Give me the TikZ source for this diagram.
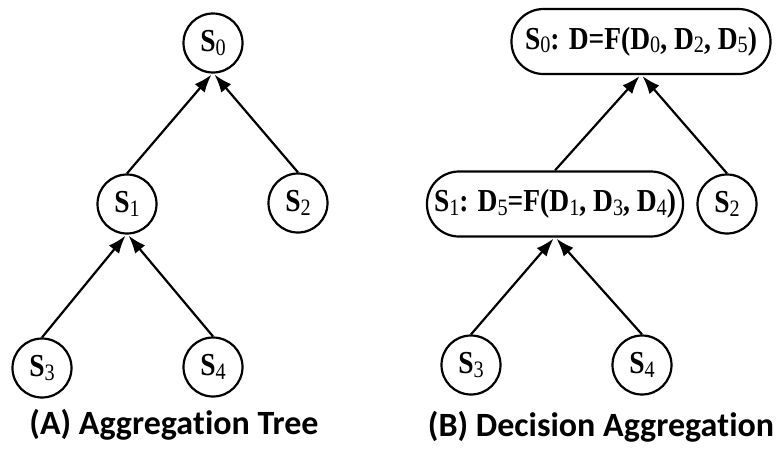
\documentclass[tikz,border=0pt]{standalone}
\usepackage{fontspec}
\setmainfont{Liberation Serif}
\newfontfamily\nodefont[FakeStretch=0.86]{Liberation Serif}
\newfontfamily\capfont[Ligatures=NoCommon]{Carlito}
\usetikzlibrary{arrows.meta}
\newcommand\subd[1]{\raisebox{-3.5pt}{\fontsize{23.5}{23.5}\mdseries\selectfont #1}}
\tikzset{
  circ/.style={circle,draw,line width=2.2pt,minimum size=59pt,inner sep=0pt,font=\nodefont\fontsize{32}{32}\bfseries\selectfont},
  pill/.style={rectangle,rounded corners=32pt,draw,line width=2.2pt,minimum height=65pt,inner sep=0pt,font=\nodefont\fontsize{32}{32}\bfseries\selectfont},
  arr/.style={line width=2.2pt,-{Latex[length=18pt,width=13pt]}},
  captext/.style={font=\capfont\bfseries\fontsize{34}{34}\selectfont,inner sep=0pt}
}
\begin{document}
\begin{tikzpicture}[x=1pt,y=-1pt]
\useasboundingbox (0,0) rectangle (781,448);
% left
\node[circ] (a0) at (213,43) {S\subd{0}};
\node[circ] (a1) at (127,204) {S\subd{1}};
\node[circ] (a2) at (298,203) {S\subd{2}};
\node[circ] (a3) at (42,368) {S\subd{3}};
\node[circ] (a4) at (213,367) {S\subd{4}};
\draw[arr] (a1.north) -- ([xshift=-1.5pt,yshift=-1pt]a0.south);
\draw[arr] (a2.north) -- ([xshift=1.5pt,yshift=-1pt]a0.south);
\draw[arr] (a3.north) -- ([xshift=-1.5pt,yshift=-1pt]a1.south);
\draw[arr] (a4.north) -- ([xshift=1.5pt,yshift=-1pt]a1.south);
\node[captext] (ca) at (174,425) {(A) Aggrega\kern0pt tion Tree};
% right
\node[pill,minimum width=259pt] (b0) at (641,41.5) {S\subd{0}: D=F(D\subd{0}, D\subd{2}, D\subd{5})};
\node[pill,minimum width=256pt] (b1) at (555,204) {S\subd{1}: D\subd{5}=F(D\subd{1}, D\subd{3}, D\subd{4})};
\node[circ] (b2) at (727,204) {S\subd{2}};
\node[circ] (b3) at (471,365) {S\subd{3}};
\node[circ] (b4) at (642,365) {S\subd{4}};
\draw[arr] (b1.north) -- ([xshift=-1.5pt,yshift=-1pt]b0.south);
\draw[arr] (b2.north) -- ([xshift=1.5pt,yshift=-1pt]b0.south);
\draw[arr] (b3.north) -- ([xshift=-1.5pt,yshift=-1pt]b1.south);
\draw[arr] (b4.north) -- ([xshift=1.5pt,yshift=-1pt]b1.south);
\node[captext] (cb) at (601,427) {(B) Decision Aggrega\kern0pt tion};
\end{tikzpicture}
\end{document}
